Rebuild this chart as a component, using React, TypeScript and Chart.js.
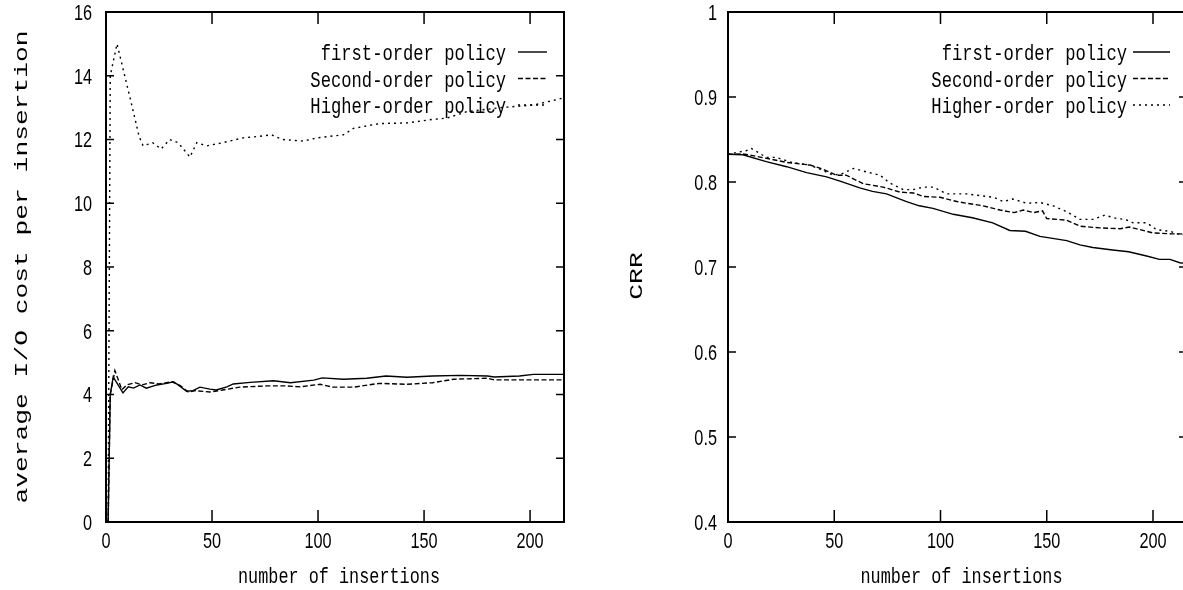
import React, { useEffect, useRef } from 'react';
import { Chart, registerables } from 'chart.js';

Chart.register(...registerables);

// ---------- shared axis data ----------
const X_MAX = 216;
const X_TICKS = [0, 50, 100, 150, 200];
const X_LABELS = ['0', '50', '100', '150', '200'];
const X_TITLE = 'number of insertions';
const SERIES_NAMES = ['first-order policy', 'Second-order policy', 'Higher-order policy'];

// ---------- left chart: average I/O cost per insertion ----------
const LEFT_Y_TITLE = 'average I/O cost per insertion';
const LEFT_Y_TICKS = [0, 2, 4, 6, 8, 10, 12, 14, 16];
const LEFT_Y_LABELS = ['0', '2', '4', '6', '8', '10', '12', '14', '16'];

const L_FIRST_X = [1, 2, 3.4, 8, 10.5, 13, 16, 19, 24, 28.6, 31.8, 34, 38, 41, 44.3, 49, 52, 57, 60, 68, 79, 87, 98, 102, 112, 123, 132, 142, 154, 167, 180, 183, 195, 201.6, 215.6];
const L_FIRST_Y = [0, 4.0, 4.55, 4.05, 4.24, 4.2, 4.3, 4.2, 4.3, 4.35, 4.4, 4.3, 4.1, 4.12, 4.23, 4.17, 4.14, 4.24, 4.33, 4.38, 4.43, 4.37, 4.45, 4.52, 4.48, 4.51, 4.58, 4.54, 4.58, 4.6, 4.58, 4.55, 4.58, 4.63, 4.63];

const L_SECOND_X = [1, 2, 4.2, 7.5, 9.8, 13.7, 17, 20.8, 25, 31, 35, 38.8, 42, 49, 55, 63, 76, 85, 91.5, 101, 107, 116.6, 129, 142, 154, 164, 180, 183, 199, 215.6];
const L_SECOND_Y = [0, 4.0, 4.75, 4.15, 4.3, 4.37, 4.3, 4.37, 4.33, 4.4, 4.28, 4.08, 4.12, 4.08, 4.14, 4.23, 4.27, 4.27, 4.24, 4.32, 4.23, 4.23, 4.35, 4.32, 4.37, 4.48, 4.51, 4.46, 4.46, 4.46];

const L_HIGHER_X = [1, 2, 5.2, 12.8, 15.6, 17.5, 22, 26, 30, 34, 39.6, 42.8, 47.5, 55, 64.6, 72.6, 78, 83, 93, 99.5, 112, 116.7, 129, 142, 154, 160.7, 170, 186, 201.6, 215.6];
const L_HIGHER_Y = [0, 14.0, 15.0, 12.9, 12.1, 11.8, 11.9, 11.7, 12.0, 11.9, 11.45, 11.9, 11.8, 11.9, 12.05, 12.1, 12.15, 12.0, 11.95, 12.05, 12.15, 12.35, 12.5, 12.52, 12.63, 12.67, 12.87, 13.0, 13.08, 13.3];

// ---------- right chart: CRR ----------
const RIGHT_Y_TITLE = 'CRR';
const RIGHT_Y_TICKS = [0.4, 0.5, 0.6, 0.7, 0.8, 0.9, 1];
const RIGHT_Y_LABELS = ['0.4', '0.5', '0.6', '0.7', '0.8', '0.9', '1'];

const R_FIRST_X = [0, 7, 18, 27.6, 37, 46.4, 52.7, 62, 68, 74.6, 84, 90, 96.5, 106, 115, 124.6, 132.6, 140, 146.8, 159.4, 165.6, 171.7, 181, 188.5, 197, 203, 208, 212.6, 216];
const R_FIRST_Y = [0.8326, 0.832, 0.824, 0.818, 0.811, 0.806, 0.801, 0.793, 0.789, 0.786, 0.777, 0.772, 0.769, 0.762, 0.758, 0.752, 0.743, 0.742, 0.736, 0.731, 0.726, 0.723, 0.72, 0.718, 0.713, 0.709, 0.709, 0.705, 0.704];

const R_SECOND_X = [0, 7, 11.7, 19.8, 27.6, 38.6, 44.8, 51, 55.6, 63.7, 73, 81, 87.3, 92, 99.8, 107.7, 112.4, 120, 128, 134.6, 139, 143.7, 148, 150, 159.4, 165.6, 175, 184.5, 189, 193.8, 200, 209, 216];
const R_SECOND_Y = [0.8326, 0.833, 0.831, 0.827, 0.823, 0.82, 0.815, 0.808, 0.808, 0.798, 0.794, 0.788, 0.787, 0.783, 0.782, 0.777, 0.775, 0.772, 0.767, 0.764, 0.767, 0.764, 0.766, 0.757, 0.755, 0.748, 0.746, 0.745, 0.747, 0.744, 0.74, 0.739, 0.739];

const R_HIGHER_X = [0, 8.8, 11, 18, 22.6, 30, 38, 42.5, 49.5, 54, 59, 65, 71.5, 76, 82.5, 87, 92, 96.6, 103, 112, 118.6, 125, 129.6, 134, 140.6, 146.8, 153, 159.4, 165.6, 171.7, 177.3, 183, 187, 190.6, 197, 201.6, 208, 212.6, 216];
const R_HIGHER_Y = [0.8326, 0.837, 0.8395, 0.829, 0.829, 0.823, 0.82, 0.816, 0.808, 0.81, 0.816, 0.812, 0.808, 0.799, 0.791, 0.791, 0.794, 0.794, 0.786, 0.786, 0.784, 0.782, 0.777, 0.78, 0.775, 0.776, 0.772, 0.765, 0.756, 0.756, 0.761, 0.757, 0.756, 0.752, 0.752, 0.744, 0.742, 0.738, 0.738];

// ---------- styles ----------
const LINE_STYLES = [[], [5, 2.5], [2, 4]];

const pts = (xs: number[], ys: number[]) => xs.map((x, i) => ({ x, y: ys[i] }));

function drawText(ctx: CanvasRenderingContext2D, text: string, x: number, y: number, sx: number, align: CanvasTextAlign, rot = 0) {
  ctx.save();
  ctx.translate(x, y);
  if (rot) ctx.rotate(rot);
  ctx.scale(sx, 1);
  ctx.textAlign = align;
  ctx.textBaseline = 'alphabetic';
  ctx.fillText(text, 0, 0);
  ctx.restore();
}

const MONO = '"Liberation Mono", "DejaVu Sans Mono", monospace';

const gnuplotFrame = {
  id: 'gnuplotFrame',
  afterDraw(chart: any, _args: any, o: any) {
    const { ctx, chartArea: a } = chart;
    const xs = chart.scales.x;
    const ys = chart.scales.y;
    ctx.save();
    ctx.strokeStyle = '#000';
    ctx.fillStyle = '#000';
    ctx.setLineDash([]);

    // inward tick marks on all four sides
    ctx.lineWidth = 1.5;
    ctx.beginPath();
    o.xTicks.forEach((v: number) => {
      const px = xs.getPixelForValue(v);
      ctx.moveTo(px, a.bottom);
      ctx.lineTo(px, a.bottom - 12);
      ctx.moveTo(px, a.top);
      ctx.lineTo(px, a.top + 12);
    });
    o.yTicks.forEach((v: number) => {
      const py = ys.getPixelForValue(v);
      ctx.moveTo(a.left, py);
      ctx.lineTo(a.left + 8, py);
      ctx.moveTo(a.right, py);
      ctx.lineTo(a.right - 8, py);
    });
    ctx.stroke();

    // border box
    ctx.lineWidth = 2;
    ctx.strokeRect(a.left, a.top, a.right - a.left, a.bottom - a.top);

    // tick labels
    ctx.font = '22px "Liberation Sans", Arial, sans-serif';
    o.xTicks.forEach((v: number, i: number) => {
      drawText(ctx, o.xLabels[i], xs.getPixelForValue(v), a.bottom + 26, 0.74, 'center');
    });
    o.yTicks.forEach((v: number, i: number) => {
      drawText(ctx, o.yLabels[i], a.left - o.yLabelGap, ys.getPixelForValue(v) + 7.8, 0.74, 'right');
    });

    // axis titles
    ctx.font = `22px ${MONO}`;
    drawText(ctx, o.xTitle, (a.left + a.right) / 2 + 4, a.bottom + 61, 0.765, 'center');
    ctx.font = `18px ${MONO}`;
    drawText(ctx, o.yTitle, a.left + o.yTitleDx, (a.top + a.bottom) / 2 + o.yTitleDy, 1.46, 'center', -Math.PI / 2);

    // key
    ctx.font = `22px ${MONO}`;
    chart.data.datasets.forEach((ds: any, i: number) => {
      const base = a.top + 48 + i * 26.5;
      ctx.setLineDash([]);
      drawText(ctx, ds.label, a.right - o.keyTextRight, base, 0.78, 'right');
      ctx.setLineDash(ds.borderDash || []);
      ctx.lineWidth = ds.borderWidth;
      ctx.beginPath();
      ctx.moveTo(a.right - o.keySampleStart, base - 8);
      ctx.lineTo(a.right - o.keySampleEnd, base - 8);
      ctx.stroke();
    });
    ctx.restore();
  },
};

function makeConfig(series: { x: number[]; y: number[] }[], yMin: number, yMax: number, padding: any, frame: any): any {
  return {
    type: 'line',
    data: {
      datasets: series.map((s, i) => ({
        label: SERIES_NAMES[i],
        data: pts(s.x, s.y),
        borderColor: '#000',
        backgroundColor: '#000',
        borderWidth: 1.4,
        borderDash: LINE_STYLES[i],
        pointRadius: 0,
        tension: 0,
        fill: false,
      })),
    },
    options: {
      responsive: false,
      animation: false,
      events: [],
      layout: { padding },
      scales: {
        x: { type: 'linear', min: 0, max: X_MAX, display: false },
        y: { type: 'linear', min: yMin, max: yMax, display: false },
      },
      plugins: {
        legend: { display: false },
        tooltip: { enabled: false },
        gnuplotFrame: frame,
      },
    },
    plugins: [gnuplotFrame],
  };
}

function GnuChart({ config, left }: { config: any; left: number }) {
  const ref = useRef<HTMLCanvasElement>(null);
  useEffect(() => {
    const chart = new Chart(ref.current as HTMLCanvasElement, config);
    return () => chart.destroy();
  }, []);
  return (
    <canvas
      ref={ref}
      width={600}
      height={590}
      style={{ position: 'absolute', left, top: 0, width: 600, height: 590 }}
    />
  );
}

export default function App() {
  const leftConfig = makeConfig(
    [
      { x: L_FIRST_X, y: L_FIRST_Y },
      { x: L_SECOND_X, y: L_SECOND_Y },
      { x: L_HIGHER_X, y: L_HIGHER_Y },
    ],
    0,
    16,
    { left: 106, right: 36, top: 12, bottom: 68 },
    {
      xTicks: X_TICKS, xLabels: X_LABELS, yTicks: LEFT_Y_TICKS, yLabels: LEFT_Y_LABELS,
      xTitle: X_TITLE, yTitle: LEFT_Y_TITLE, yLabelGap: 14, yTitleDx: -79, yTitleDy: 0,
      keyTextRight: 58, keySampleStart: 46, keySampleEnd: 17,
    }
  );
  const rightConfig = makeConfig(
    [
      { x: R_FIRST_X, y: R_FIRST_Y },
      { x: R_SECOND_X, y: R_SECOND_Y },
      { x: R_HIGHER_X, y: R_HIGHER_Y },
    ],
    0.4,
    1,
    { left: 128, right: 13, top: 12, bottom: 68 },
    {
      xTicks: X_TICKS, xLabels: X_LABELS, yTicks: RIGHT_Y_TICKS, yLabels: RIGHT_Y_LABELS,
      xTitle: X_TITLE, yTitle: RIGHT_Y_TITLE, yLabelGap: 11, yTitleDx: -86, yTitleDy: 9,
      keyTextRight: 60, keySampleStart: 54, keySampleEnd: 17,
    }
  );
  return (
    <div style={{ position: 'fixed', left: 0, top: 0, width: 1183, height: 590, overflow: 'hidden', background: '#fff' }}>
      <GnuChart config={leftConfig} left={0} />
      <GnuChart config={rightConfig} left={600} />
    </div>
  );
}
